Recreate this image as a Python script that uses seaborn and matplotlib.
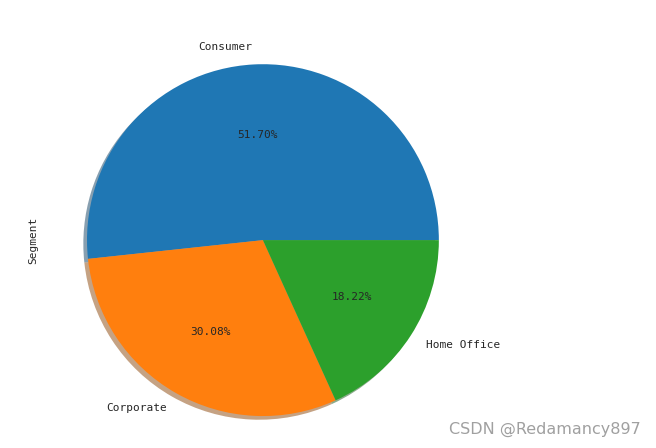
import matplotlib
matplotlib.use('Agg')
import matplotlib.pyplot as plt
import seaborn as sns

segments = ['Consumer', 'Corporate', 'Home Office']
shares = [51.70, 30.08, 18.22]


def draw_pie():
    sns.set_style('white')
    plt.rcParams['font.family'] = ['DejaVu Sans Mono', 'DejaVu Sans']
    colors = sns.color_palette('tab10', len(segments))

    fig = plt.figure(figsize=(6.56, 4.48), dpi=100)
    ax = fig.add_axes([0.1058, 0.032, 0.59, 0.864])
    ax.pie(shares, labels=segments, colors=colors, autopct='%.2f%%',
           shadow={'ox': -0.015, 'oy': -0.015, 'shade': 0.45},
           startangle=0, wedgeprops={'linewidth': 0},
           textprops={'fontsize': 8})
    ax.set_xlim(-1.1, 1.1)
    ax.set_ylim(-1.1, 1.1)
    ax.set_aspect('equal')
    for s in ax.spines.values():
        s.set_visible(False)
    ax.set_xticks([])
    ax.set_yticks([])
    ax.set_ylabel('Segment', fontsize=8)
    ax.yaxis.set_label_coords(-0.081, 0.5)

    fig.text(0.977, 0.025, 'CSDN @Redamancy897', ha='right', va='bottom',
             fontsize=11.5, color='#a0a0a0', family='DejaVu Sans')
    fig.savefig('out.png', dpi=100)


def main():
    draw_pie()


if __name__ == '__main__':
    main()
